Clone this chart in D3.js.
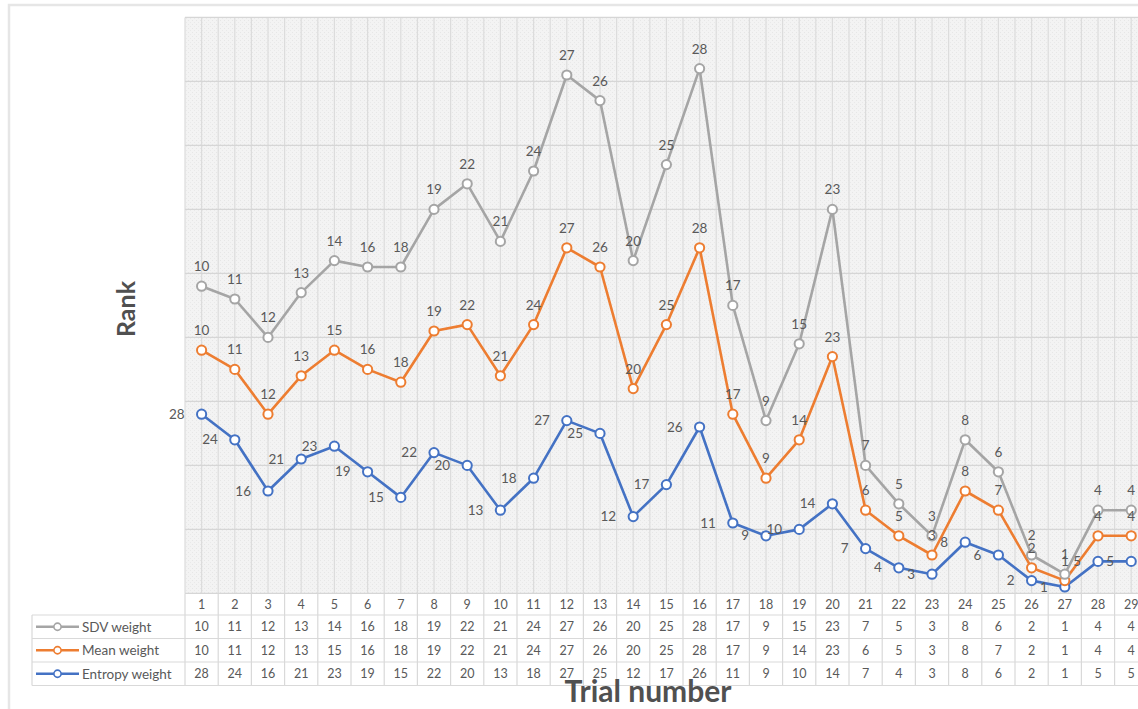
<!DOCTYPE html>
<html>
<head>
<meta charset="utf-8">
<script src="https://cdn.jsdelivr.net/npm/d3@7"></script>
<style>
  body { margin: 0; background: #fff; }
  svg { display: block; }
  text { font-family: Lato, "Liberation Sans", sans-serif; }
</style>
</head>
<body>
<svg id="chart" width="1138" height="709"></svg>
<script>
// Trial numbers on the category axis
const trials = [1,2,3,4,5,6,7,8,9,10,11,12,13,14,15,16,17,18,19,20,21,22,23,24,25,26,27,28,29];

// Rank of each trial under each weighting scheme
const sdvWeight     = [10,11,12,13,14,16,18,19,22,21,24,27,26,20,25,28,17,9,15,23,7,5,3,8,6,2,1,4,4];
const meanWeight    = [10,11,12,13,15,16,18,19,22,21,24,27,26,20,25,28,17,9,14,23,6,5,3,8,7,2,1,4,4];
const entropyWeight = [28,24,16,21,23,19,15,22,20,13,18,27,25,12,17,26,11,9,10,14,7,4,3,8,6,2,1,5,5];

const seriesNames  = ["SDV weight", "Mean weight", "Entropy weight"];
const seriesColors = ["#a5a5a5", "#ed7d31", "#4472c4"];

const W = 1138, H = 709;
const plot = { left: 185, top: 17.4, bottom: 593.4 };
const band = 33.2;
plot.right = plot.left + band * trials.length;

const svg = d3.select("#chart");

// Stacked series: entropy at the bottom, mean on top of it, SDV on top
const bySeries = [sdvWeight, meanWeight, entropyWeight];
const stackInput = trials.map((t, i) => ({
  trial: t,
  entropy: entropyWeight[i],
  mean: meanWeight[i],
  sdv: sdvWeight[i]
}));
const stacked = d3.stack().keys(["entropy", "mean", "sdv"])(stackInput);
// map stack layers back to series order (SDV, Mean, Entropy)
const layerFor = { 0: stacked[2], 1: stacked[1], 2: stacked[0] };

const x = d3.scaleBand().domain(trials).range([plot.left, plot.right]).padding(0);
const y = d3.scaleLinear().domain([0, 90]).range([plot.bottom, plot.top]);

// Chart frame
svg.append("rect").attr("x", 9).attr("y", 5).attr("width", W + 20).attr("height", H + 20)
  .attr("fill", "#fff").attr("stroke", "#e6e6e6").attr("stroke-width", 2.5);

// Textured plot background
const defs = svg.append("defs");
const pat = defs.append("pattern").attr("id", "tex").attr("patternUnits", "userSpaceOnUse")
  .attr("width", 4).attr("height", 4);
pat.append("rect").attr("width", 4).attr("height", 4).attr("fill", "#f3f3f3");
pat.append("rect").attr("x", 0).attr("y", 0).attr("width", 1).attr("height", 1).attr("fill", "#e6e6e6");
pat.append("rect").attr("x", 2).attr("y", 2).attr("width", 1).attr("height", 1).attr("fill", "#e9e9e9");

svg.append("rect")
  .attr("x", plot.left).attr("y", plot.top)
  .attr("width", plot.right - plot.left).attr("height", plot.bottom - plot.top)
  .attr("fill", "url(#tex)");

// Gridlines
const grid = svg.append("g").attr("stroke", "#dcdcdc").attr("stroke-width", 1.2);
trials.forEach(t => {
  [x(t), x(t) + x.bandwidth() / 2].forEach(gx => {
    grid.append("line").attr("x1", gx).attr("x2", gx)
      .attr("y1", plot.top).attr("y2", plot.bottom);
  });
});
y.ticks(9).forEach(v => {
  grid.append("line").attr("x1", plot.left).attr("x2", plot.right)
    .attr("y1", y(v)).attr("y2", y(v)).attr("stroke", "#d6d6d6");
});

// Lines and markers
const cx = t => x(t) + x.bandwidth() / 2;
const line = d3.line().x(d => cx(d.data.trial)).y(d => y(d[1]));

[2, 1, 0].forEach(s => {
  const layer = layerFor[s];
  const g = svg.append("g");
  g.append("path").datum(layer)
    .attr("d", line).attr("fill", "none")
    .attr("stroke", seriesColors[s]).attr("stroke-width", 2.6)
    .attr("stroke-linejoin", "round");
  g.selectAll("circle").data(layer).join("circle")
    .attr("cx", d => cx(d.data.trial)).attr("cy", d => y(d[1]))
    .attr("r", 4.6).attr("fill", "#fff")
    .attr("stroke", seriesColors[s]).attr("stroke-width", 2);
});

// Data labels: SDV and Mean above, Entropy to the left
[0, 1, 2].forEach(s => {
  const layer = layerFor[s];
  const vals = bySeries[s];
  svg.append("g").selectAll("text").data(layer).join("text")
    .attr("x", d => s === 2 ? cx(d.data.trial) - 17 : cx(d.data.trial))
    .attr("y", d => s === 2 ? y(d[1]) + 4.5 : y(d[1]) - 15)
    .attr("text-anchor", s === 2 ? "end" : "middle")
    .attr("font-size", 13.5).attr("fill", "#595959")
    .text((d, i) => vals[i]);
});

// Data table under the plot
const rowTops = [593.4, 615, 638.5, 662, 685.5];
const tbl = svg.append("g").attr("stroke", "#d9d9d9").attr("stroke-width", 1.2);
// vertical cell borders
trials.forEach(t => {
  tbl.append("line").attr("x1", x(t)).attr("x2", x(t))
    .attr("y1", rowTops[0]).attr("y2", rowTops[4]);
});
// horizontal row borders
rowTops.slice(1).forEach(ry => {
  tbl.append("line").attr("x1", 32).attr("x2", plot.right).attr("y1", ry).attr("y2", ry);
});
tbl.append("line").attr("x1", 32).attr("x2", 32).attr("y1", rowTops[1]).attr("y2", rowTops[4]);

// category header row
svg.append("g").selectAll("text").data(trials).join("text")
  .attr("x", t => cx(t)).attr("y", (rowTops[0] + rowTops[1]) / 2 + 4.5)
  .attr("text-anchor", "middle").attr("font-size", 12.5).attr("fill", "#595959")
  .text(t => t);

// series rows
bySeries.forEach((vals, s) => {
  const ry = (rowTops[s + 1] + rowTops[s + 2]) / 2;
  const g = svg.append("g");
  g.selectAll("text").data(vals).join("text")
    .attr("x", (v, i) => cx(trials[i])).attr("y", ry + 4.5)
    .attr("text-anchor", "middle").attr("font-size", 12.5).attr("fill", "#595959")
    .text(v => v);
  // legend key
  g.append("line").attr("x1", 36).attr("x2", 79).attr("y1", ry).attr("y2", ry)
    .attr("stroke", seriesColors[s]).attr("stroke-width", 2.6);
  g.append("circle").attr("cx", 57.5).attr("cy", ry).attr("r", 3.6)
    .attr("fill", "#fff").attr("stroke", seriesColors[s]).attr("stroke-width", 1.6);
  g.append("text").attr("x", 82).attr("y", ry + 4.8)
    .attr("font-size", 13.5).attr("fill", "#595959").text(seriesNames[s]);
});

// Axis titles
svg.append("text").attr("x", 648).attr("y", 702)
  .attr("text-anchor", "middle").attr("font-size", 30).attr("font-weight", 700)
  .attr("fill", "#505050").text("Trial number");

svg.append("text")
  .attr("transform", "translate(135,309) rotate(-90)")
  .attr("text-anchor", "middle").attr("font-size", 25).attr("font-weight", 700)
  .attr("fill", "#505050").text("Rank");
</script>
</body>
</html>
